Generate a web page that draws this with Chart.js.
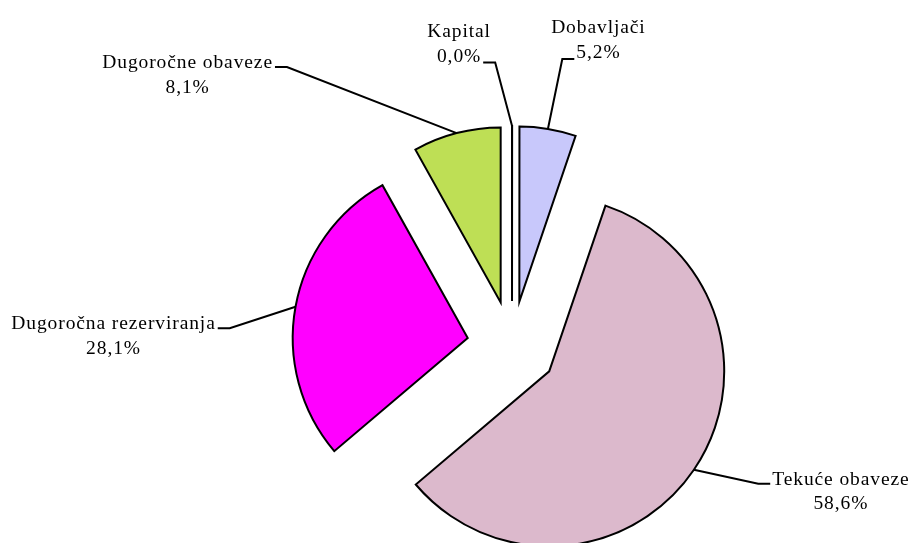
<!DOCTYPE html>
<html>
<head>
<meta charset="utf-8">
<script src="https://cdn.jsdelivr.net/npm/chart.js@4.4.1/dist/chart.umd.min.js"></script>
<style>
  html, body { margin: 0; padding: 0; background: #fff; }
  #wrap { width: 917px; height: 543px; }
</style>
</head>
<body>
<div id="wrap"><canvas id="pieChart" width="917" height="543"></canvas></div>
<script>
// data (percent shares, clockwise from the top)
const categories = ['Kapital', 'Dobavljači', 'Tekuće obaveze', 'Dugoročna rezerviranja', 'Dugoročne obaveze'];
const shares = [0.01, 5.2, 58.6, 28.1, 8.1];
const sliceColors = ['#ffffff', '#c8c8fb', '#dcb9cc', '#ff00ff', '#bedf55'];

// label layout: offset of the label (first line baseline, centre) from the leader start
const labelOffset = [[-53, -89], [50.5, -95.5], [147, 15], [-182, 22.5], [-269, -65]];
// which text line the leader attaches to, and on which side
const labelAttach = [[1, 'right'], [1, 'left'], [0, 'left'], [0, 'right'], [0, 'right']];

const explode = 45;
const lineGap = 24.5;

function pct(v) {
    return v.toFixed(1).replace('.', ',') + '%';
}

const explodedPie = {
    id: 'explodedPie',
    beforeDatasetsDraw(chart) {
        const ctx = chart.ctx;
        const arcs = chart.getDatasetMeta(0).data;

        // slices, each pushed out along its middle angle
        arcs.forEach(arc => {
            const mid = (arc.startAngle + arc.endAngle) / 2;
            ctx.save();
            ctx.translate(Math.cos(mid) * explode, Math.sin(mid) * explode);
            arc.draw(ctx);
            ctx.restore();
        });

        // labels + leader lines
        ctx.save();
        ctx.font = '19.5px "Liberation Serif", "Times New Roman", serif';
        ctx.letterSpacing = '0.9px';
        ctx.fillStyle = '#000';
        ctx.strokeStyle = '#000';
        ctx.lineWidth = 2;
        ctx.textAlign = 'center';
        ctx.textBaseline = 'alphabetic';

        arcs.forEach((arc, i) => {
            const mid = (arc.startAngle + arc.endAngle) / 2;
            const sx = arc.x + Math.cos(mid) * (explode + arc.outerRadius);
            const sy = arc.y + Math.sin(mid) * (explode + arc.outerRadius);
            const cx = sx + labelOffset[i][0];
            const cy = sy + labelOffset[i][1];
            const lines = [categories[i], pct(shares[i])];

            lines.forEach((t, k) => ctx.fillText(t, cx, cy + k * lineGap));

            const [ln, side] = labelAttach[i];
            const w = ctx.measureText(lines[ln]).width;
            const stubY = cy + ln * lineGap + (ln ? 1 : -1);
            const edge = side === 'left' ? cx - w / 2 - 2 : cx + w / 2 + 2;
            const elbow = side === 'left' ? edge - 12 : edge + 12;

            ctx.beginPath();
            ctx.moveTo(sx, sy);
            ctx.lineTo(elbow, stubY);
            ctx.lineTo(edge, stubY);
            ctx.stroke();
        });
        ctx.restore();
        return false;
    }
};

new Chart(document.getElementById('pieChart'), {
    type: 'pie',
    data: {
        labels: categories,
        datasets: [{
            data: shares,
            backgroundColor: sliceColors,
            borderColor: '#000',
            borderWidth: 2,
            borderJoinStyle: 'miter'
        }]
    },
    options: {
        responsive: false,
        animation: false,
        events: [],
        radius: 175,
        layout: { padding: { left: 107, top: 149, right: 0, bottom: 0 } },
        plugins: {
            legend: { display: false },
            tooltip: { enabled: false }
        }
    },
    plugins: [explodedPie]
});
</script>
</body>
</html>
